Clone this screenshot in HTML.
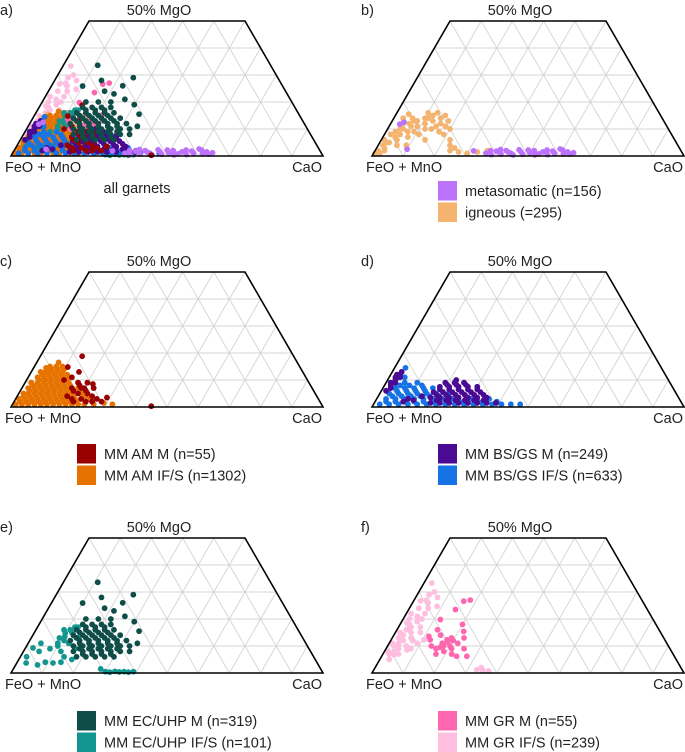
<!DOCTYPE html>
<html><head><meta charset="utf-8"><style>
html,body{margin:0;padding:0;background:#fff;}
svg{display:block;font-family:"Liberation Sans",Arial,sans-serif;}
</style></head><body>
<svg id="fig" width="685" height="752" viewBox="0 0 685 752" xmlns="http://www.w3.org/2000/svg"></svg>
<script>
// [CaO %, MgO %] pairs for each garnet group
const metasomatic = [[36,1],[38,0.5],[39,1.8],[41,0.7],[42,2],[44,1],[45,0.4],[47,1.5],[48,0.6],[50,1.2],[51,2],[53,0.8],[54,1.5],[56,0.5],[57,1.8],[58,1],[60,2.2],[61,0.8],[62,1.5],[63,0.7],[64,1.2],[59,2.6],[55,2.2],[46,2.3],[40,2.4],[37,2],[43,1.4],[49,2.2],[52,0.4],[3,11.8],[4,12.5],[31.6,1.9],[10,2.5]];
const igneous = [[0.5,1],[1,2],[2,1],[1.5,4],[1,6],[2.5,3],[3,5],[4,7],[2,8],[3,9],[5,10],[4,12],[3,14],[4,15.5],[6,12],[7,9],[8,13],[9,11],[10,14],[11,12],[12,15],[13,13],[14,10],[15,14],[16,12],[17,9],[18,11],[19,8],[20,10],[13,16],[10,16],[6,14],[8,7],[11,8],[14,6],[22,6],[23,4],[25,3],[24,2],[27,1.5],[30,1],[33,1.5],[5,6],[6,4],[9,4],[3,2],[7,11],[12,10],[16,15],[36,2],[5,8],[9,9],[11,14],[15,11],[18,13],[7,13],[4,10],[2,5]];
const amM = [[16,4],[17,6],[18,8],[19,5],[20,7],[21,3],[22,5],[23,7],[24,4],[25,2],[18,3],[20,9],[22,8.5],[17,9],[16,7],[19,2],[26,3],[28,2],[29,3.5],[23,2],[13.4,18.8],[10.8,14.8],[15.3,13],[44.8,0.3],[14,11],[12,10],[21,6],[19,7]];
const amIFS = [[1,1],[3,1],[5,1],[7,1],[9,1],[11,1],[13,1],[15,1],[17,1],[19,1],[21,1],[23,1],[26,1],[29,1.5],[32,1],[1,3],[3,3],[5,3],[7,3],[9,3],[11,3],[13,3],[15,3],[17,3],[19,3],[21,3],[24,3],[1.5,5],[3,5],[5,5],[7,5],[9,5],[11,5],[13,5],[15,5],[17,5],[20,5],[2,7],[4,7],[6,7],[8,7],[10,7],[12,7],[14,7],[16,7],[18,7],[2,9],[4,9],[6,9],[8,9],[10,9],[12,9],[14,9],[3,11],[5,11],[7,11],[9,11],[11,11],[13,11],[3,13],[4.5,13],[6,13],[8,13],[10,13],[5,15],[7,15],[9,15],[7,16.5],[4,14.5],[22,4],[25,2],
 [2,2],[4,2],[6,2],[8,2],[10,2],[12,2],[14,2],[16,2],[18,2],[20,2],[2,4],[4,4],[6,4],[8,4],[10,4],[12,4],[14,4],[16,4],[18,4],[3,6],[5,6],[7,6],[9,6],[11,6],[13,6],[15,6],[17,6],[3,8],[5,8],[7,8],[9,8],[11,8],[13,8],[15,8],[4,10],[6,10],[8,10],[10,10],[12,10],[4,12],[6,12],[8,12],[10,12],[12,12],[6,14],[8,14],[10,14]];
const bsM = [[18,1.5],[21,1.5],[24,1.5],[27,1.5],[30,1.5],[33,1.5],[36,1.5],[39,1.5],[17,3.5],[20,3.5],[23,3.5],[26,3.5],[29,3.5],[32,3.5],[35,3.5],[17,5.5],[20,5.5],[23,5.5],[26,5.5],[29,5.5],[32,5.5],[18,7.5],[21,7.5],[24,7.5],[27,7.5],[30,7.5],[19,9],[22,9],[25,9],[1.5,6],[2,8],[2.5,10],[2,12],[3,13],[3.5,11],[1.5,9],[3,9],[2.5,7],[10,3],[12,2.5],[14,4],[9,2],
 [19.5,2.5],[22.5,2.5],[25.5,2.5],[28.5,2.5],[31.5,2.5],[34.5,2.5],[18.5,4.5],[21.5,4.5],[24.5,4.5],[27.5,4.5],[30.5,4.5],[33.5,4.5],[18.5,6.5],[21.5,6.5],[24.5,6.5],[27.5,6.5],[30.5,6.5],[20,8.2],[23,8.2],[26,8.2],[22,10],[2,11],[3,12]];
const bsIFS = [[2,1],[5,1],[8,1],[11,1],[14,1],[17,1],[20,1],[23,1],[26,1],[29,1],[32,1],[35,1],[38,1],[41,1],[44,1],[47,1],[3,3],[6,3],[9,3],[12,3],[15,3],[18,3],[21,3],[24,3],[30,3],[36,3],[3,5],[6,5],[9,5],[12,5],[15,5],[18,5],[22,5],[4,7],[7,7],[10,7],[13,7],[16,7],[3,9],[6,9],[10,9],[3,11],[5,11],[3,13],[3.5,14.5],
 [3.5,2],[6.5,2],[9.5,2],[12.5,2],[15.5,2],[18.5,2],[27,2],[33,2],[39,2],[4.5,4],[7.5,4],[10.5,4],[13.5,4],[16.5,4],[19.5,4],[5,6],[8,6],[11,6],[14,6],[5,8],[8,8],[12,8]];
const ecM = [[18,6],[21,6],[24,6],[27,6],[30,6],[16,8],[19,8],[22,8],[25,8],[28,8],[31,8],[34,8],[15,10],[18,10],[21,10],[24,10],[27,10],[30,10],[33,10],[13,12],[16,12],[19,12],[22,12],[25,12],[28,12],[31,12],[13,14],[16,14],[19,14],[22,14],[25,14],[28,14],[13,16],[16,16],[19,16],[22,16],[25,16],[14,18],[17,18],[20,18],[23,18],[14,20],[18,20],[22,20],[11,33.6],[24.7,29],[10,25.9],[33.3,15.5],[22.8,26],[21.5,23],[26,21],[18,24],[30,19],[35,11],[15,28],
 [19.5,7],[22.5,7],[25.5,7],[28.5,7],[17.5,9],[20.5,9],[23.5,9],[26.5,9],[29.5,9],[16.5,11],[19.5,11],[22.5,11],[25.5,11],[28.5,11],[14.5,13],[17.5,13],[20.5,13],[23.5,13],[26.5,13],[14.5,15],[17.5,15],[20.5,15],[23.5,15],[15.5,17],[18.5,17],[21.5,17]];
const ecIFS = [[10,14.8],[9,13],[11,12],[12,15],[13,11],[10,10],[12,8],[14,6],[15,13],[16,9],[11,16],[13,17],[9,16],[14,4],[17,5],[8,9],[3,3.7],[2.4,9.3],[4.1,11],[11.6,3.7],[2,6],[5,8],[7,3],[9,4],[30,0.5],[31.5,0.3],[33,0.6],[34.5,0.4],[36,0.5],[37.5,0.3],[39,0.5],[28,1.5],[10.5,13.5],[12,17],[9.5,11]];
const grM = [[18,27],[16.1,26.6],[15,23.5],[17.9,12.3],[12.5,12.3],[24,6.2],[27.3,6.2],[21.7,15.4],[12,19.8],[11.4,13.6],[17,11],[19,13],[18,10],[20,12],[16,9],[19,8],[21,9],[22,11],[14,10],[15,14],[13,16],[20,18],[22,7],[25,9],[17,7],[23,13],[18.5,11.5],[17,9.5],[20,10]];
const grIFS = [[2.5,33.3],[3.8,29],[2.2,26.7],[8.5,24.7],[2,18.5],[10.5,12.3],[3.6,6.8],[6.9,8.6],[1.5,22],[3,24],[5,26],[4,21],[6,22],[2,20],[5,19],[7,17],[3,16],[5,15],[8,15],[2,13],[4,12],[6,13],[9,11],[2,10],[4,9],[6,10],[8,9],[2,7],[5,7],[3,5],[7,28],[5,30],[1,11],[3,14],[6,20],[33,1.2],[35,1],[37,0.8],[34,2],[3,18],[4,17],[1.5,15],[3,11],[7,12],[4,27],[6,24],[1,8],[3,8]];
const gridTicks = [10,20,30,40,50,60,70,80,90];
const mgTicks = [10,20,30,40];

const C = {metasomatic:'#bd72fb', igneous:'#f4b46f', amM:'#990000', amIFS:'#e67300', bsM:'#4a0a94', bsIFS:'#1673e5', ecM:'#0e4d48', ecIFS:'#12968f', grM:'#ff66b0', grIFS:'#ffbde0'};
const NS='http://www.w3.org/2000/svg';
const svg=document.getElementById('fig');
const W=312, H=270;
function el(tag, attrs, parent){const e=document.createElementNS(NS,tag);for(const k in attrs)e.setAttribute(k,attrs[k]);(parent||svg).appendChild(e);return e;}
function px(L,ca,mg){return L+(ca+mg/2)*W/100;}
function py(B,mg){return B-mg*H/100;}

function panel(key, ox, oy, label, series, legend, caption){
  const g=el('g',{});
  
  
  const L=11+ox, B=156+oy;
  const gg=el('g',{stroke:'#d4d4d4','stroke-width':'0.9',fill:'none'},g);
  
  
  mgTicks.forEach(m=>{el('line',{x1:px(L,0,m),y1:py(B,m),x2:px(L,100-m,m),y2:py(B,m)},gg);});
  gridTicks.forEach(c=>{
    const mTop=Math.min(50,100-c);
    el('line',{x1:px(L,c,0),y1:B,x2:px(L,c,mTop),y2:py(B,mTop)},gg);
    const f=c;
    const mT2=Math.min(50,100-f);
    el('line',{x1:px(L,100-f,0),y1:B,x2:px(L,100-f-mT2,mT2),y2:py(B,mT2)},gg);
  });
  const pts=el('g',{},g);
  
  
  series.forEach(s=>{
    s.data.forEach(d=>{
      const c=el('circle',{cx:px(L,d[0],d[1]),cy:py(B,d[1]),r:2.9,fill:C[s.key]},pts);
      
      
    });
  });
  const o=el('polygon',{points:`${L},${B} ${px(L,0,50)},${py(B,50)} ${px(L,50,50)},${py(B,50)} ${L+W},${B}`,fill:'none',stroke:'#000','stroke-width':'1.6'},g);
  
  
  const t=(txt,x,y,anchor,name)=>{const e=el('text',{x:x,y:y,'font-size':'14.5','text-anchor':anchor||'start',fill:'#222'},g);e.textContent=txt;return e;};
  t(label, ox+0, oy+15,'start','panel-label');
  t('50% MgO', ox+159, oy+15,'middle','apex-label-mgo');
  t('FeO + MnO', ox+5, oy+172,'start','corner-label-feo-mno');
  t('CaO', ox+322, oy+172,'end','corner-label-cao');
  if(caption) t(caption, ox+137, oy+193,'middle','panel-caption');
  if(legend){
    legend.forEach((it,i)=>{
      const ly=legend.y+oy+i*21.5;
      const r=el('rect',{x:ox+77,y:ly,width:19,height:19.5,fill:C[it.key]},g);
      
      
      t(it.text, ox+104, ly+15,'start','legend-entry-'+it.key);
    });
  }
}
const allSeries=[{key:'grIFS',data:grIFS},{key:'igneous',data:igneous},{key:'amIFS',data:amIFS},{key:'ecIFS',data:ecIFS},{key:'grM',data:grM},{key:'bsIFS',data:bsIFS},{key:'bsM',data:bsM},{key:'metasomatic',data:metasomatic},{key:'amM',data:amM},{key:'ecM',data:ecM}];
panel('a',0,0,'a)',allSeries,null,'all garnets');
let lb=[{key:'metasomatic',text:'metasomatic (n=156)'},{key:'igneous',text:'igneous (=295)'}]; lb.y=181;
panel('b',361,0,'b)',[{key:'igneous',data:igneous},{key:'metasomatic',data:metasomatic}],lb);
let lc=[{key:'amM',text:'MM AM M (n=55)'},{key:'amIFS',text:'MM AM IF/S (n=1302)'}]; lc.y=193;
panel('c',0,251,'c)',[{key:'amIFS',data:amIFS},{key:'amM',data:amM}],lc);
let ld=[{key:'bsM',text:'MM BS/GS M (n=249)'},{key:'bsIFS',text:'MM BS/GS IF/S (n=633)'}]; ld.y=193;
panel('d',361,251,'d)',[{key:'bsIFS',data:bsIFS},{key:'bsM',data:bsM}],ld);
let le=[{key:'ecM',text:'MM EC/UHP M (n=319)'},{key:'ecIFS',text:'MM EC/UHP IF/S (n=101)'}]; le.y=194;
panel('e',0,517,'e)',[{key:'ecIFS',data:ecIFS},{key:'ecM',data:ecM}],le);
let lf=[{key:'grM',text:'MM GR M (n=55)'},{key:'grIFS',text:'MM GR IF/S (n=239)'}]; lf.y=194;
panel('f',361,517,'f)',[{key:'grIFS',data:grIFS},{key:'grM',data:grM}],lf);
</script>
</body></html>
